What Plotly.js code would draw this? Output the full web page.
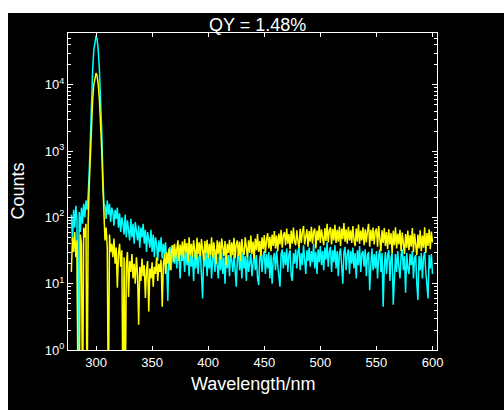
<!DOCTYPE html>
<html>
<head>
<meta charset="utf-8">
<script src="https://cdn.plot.ly/plotly-3.0.1.min.js"></script>
<style>
html,body{margin:0;padding:0;background:#fff;}
#chart{position:absolute;left:8px;top:13px;width:496px;height:397px;}
</style>
</head>
<body>
<div id="chart"></div>
<script>
// wavelength grid: first sample and step (nm)
var startNm = 278;
var stepNm = 1;

var cyanCounts = [
110,45,130,70,150,90,0.5,120,60,140,
80,160,100,180,130,220,530,2200,7000,17000,
33000,48000,55000,48000,33000,17000,7000,2200,530,160,
150,95,180,110,160,85,140,120,75,130,
95,140,70,115,60,100,80,55,110,50,
90,60,45,95,50,80,40,85,55,45,
75,35,70,50,80,40,65,30,60,45,
35,65,30,55,25,50,40,22,45,30,
50,24,40,28,42,18,5.5,30,36,16,
32,38,20,33,17,35,25,12,32,22,
30,15,34,19,28,13,32,18,27,11,
29,17,33,14,26,30,15,6,27,18,
32,13,26,17,31,12,24,29,15,33,
19,12,28,16,30,14,25,10,29,17,
27,13,31,18,15,28,12,9,24,30,
16,27,12,29,17,26,11,31,15,24,
28,13,23,30,16,27,12,9.5,25,29,
15,26,31,14,28,17,30,12,27,10,
24,29,16,31,19,13,9,28,33,17,
30,19,34,15,28,32,13,11,29,20,
33,17,30,36,16,29,19,38,21,14,
32,22,35,18,31,21,40,17,30,14,
33,21,37,19,31,16,35,23,42,18,
30,36,15,32,21,38,17,31,13,29,
34,19,10,30,36,16,28,33,14,31,
20,35,17,29,12,32,19,37,15,28,
31,18,33,13,27,30,8,19,34,16,
28,17,31,12,26,33,15,29,4.5,18,
30,14,27,32,11,25,29,4.8,17,28,
15,31,18,12,27,33,16,26,7.3,29,
17,14,28,19,31,12,24,27,10,5.7,
26,16,29,12,25,30,15,10,6,27,
17,28,14
];

var yellowCounts = [
15,50,30,60,25,45,0.1,0.1,55,40,
0.1,70,50,80,0.1,90,330,1100,2900,6000,
10000,13500,15000,13500,10000,6000,2900,1100,330,80,
45,70,35,0.1,55,30,40,25,48,20,
35,8.7,28,40,18,32,0.1,25,0.1,20,
30,6.3,22,15,28,12,20,10,25,14,
2.4,18,11,24,13,19,6.1,16,22,3.8,
17,12,21,9,18,14,25,11,20,15,
23,4.5,19,28,14,30,20,34,16,29,
38,21,40,25,35,45,22,39,27,43,
24,47,30,41,21,50,27,40,25,45,
31,23,49,28,42,26,47,32,22,44,
29,46,24,40,27,50,25,42,31,20,
45,28,43,23,48,32,26,44,19,40,
29,46,25,42,27,49,24,39,45,26,
43,22,47,30,27,50,33,25,45,29,
53,28,43,24,48,32,56,30,44,26,
50,33,54,29,46,58,34,51,31,55,
37,62,34,53,31,57,39,65,35,54,
60,38,68,40,56,33,63,40,70,43,
38,64,44,35,67,41,60,74,39,58,
66,36,62,43,72,40,61,68,34,63,
45,75,41,66,47,38,69,44,80,42,
63,71,39,67,45,77,41,65,43,73,
37,68,47,82,43,66,40,72,45,64,
41,74,46,37,68,43,78,40,63,45,
71,38,66,42,62,80,36,65,44,70,
39,61,68,36,74,43,31,64,41,69,
37,60,33,66,39,58,29,63,38,71,
34,57,39,65,31,59,37,28,56,35,
63,32,54,36,69,30,57,38,27,55,
34,64,31,53,35,71,29,58,37,66,
33,61,42
];

var xTickVals = [300,350,400,450,500,550,600];
var yTickVals = [1,10,100,1000,10000];
var yTickText = ['10<sup>0</sup>','10<sup>1</sup>','10<sup>2</sup>','10<sup>3</sup>','10<sup>4</sup>'];

var minorVals = [];
for (var d = 1; d <= 10000; d *= 10) {
  for (var m = 2; m <= 9; m++) minorVals.push(m * d);
}

var font = 'Liberation Sans, Arial, sans-serif';

var traces = [
  {type:'scatter', mode:'lines', x0:startNm, dx:stepNm, y:cyanCounts,
   line:{color:'#00FFFF', width:1.5}, hoverinfo:'skip'},
  {type:'scatter', mode:'lines', x0:startNm, dx:stepNm, y:yellowCounts,
   line:{color:'#FFFF00', width:1.5}, hoverinfo:'skip'}
];

var layout = {
  width:496, height:397,
  margin:{l:60, r:67, t:20, b:60, pad:0},
  paper_bgcolor:'#000', plot_bgcolor:'#000',
  showlegend:false,
  font:{family:font, color:'#fff', size:13},
  title:{text:'QY = 1.48%', font:{family:font, size:18, color:'#fff'},
         xref:'paper', x:0.514, xanchor:'center', yref:'container', y:0.97, yanchor:'middle'},
  xaxis:{range:[275,604], tickmode:'array', tickvals:xTickVals,
         ticks:'inside', ticklen:4, tickwidth:1, tickcolor:'#fff',
         showline:true, linecolor:'#fff', linewidth:1, mirror:'ticks',
         showgrid:false, zeroline:false,
         tickfont:{family:font, size:13, color:'#fff'}},
  yaxis:{type:'log', range:[0,4.78], tickmode:'array', tickvals:yTickVals, ticktext:yTickText,
         ticks:'inside', ticklen:5, tickwidth:1, tickcolor:'#fff',
         showline:true, linecolor:'#fff', linewidth:1, mirror:'ticks',
         showgrid:false, zeroline:false,
         tickfont:{family:font, size:13, color:'#fff'},
         minor:{tickmode:'array', tickvals:minorVals, ticks:'inside', ticklen:3,
                tickwidth:1, tickcolor:'#fff', showgrid:false}},
  annotations:[
    {text:'Wavelength/nm', xref:'paper', yref:'paper', x:0.501, y:0,
     xanchor:'center', yanchor:'middle', yshift:-33.5, showarrow:false,
     font:{family:font, size:18, color:'#fff'}},
    {text:'Counts', xref:'paper', yref:'paper', x:-0.138, y:0.5,
     xanchor:'center', yanchor:'middle', textangle:-90, showarrow:false,
     font:{family:font, size:18, color:'#fff'}}
  ]
};

Plotly.newPlot('chart', traces, layout, {displayModeBar:false, staticPlot:true});
</script>
</body>
</html>
